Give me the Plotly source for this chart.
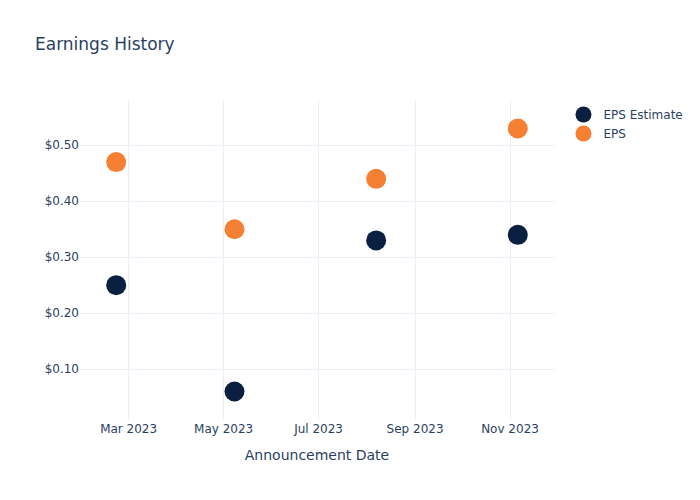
import plotly.graph_objects as go

dates = ["2023-02-21", "2023-05-08", "2023-08-07", "2023-11-06"]
eps_estimate = [0.25, 0.06, 0.33, 0.34]
eps_actual = [0.47, 0.35, 0.44, 0.53]

fig = go.Figure()
fig.add_trace(go.Scatter(x=dates, y=eps_estimate, mode="markers", name="EPS Estimate",
                         marker=dict(size=20, color="#0b1f41")))
fig.add_trace(go.Scatter(x=dates, y=eps_actual, mode="markers", name="EPS",
                         marker=dict(size=20, color="#f58033")))
fig.update_layout(
    template="plotly_white",
    width=700, height=500,
    font=dict(family="DejaVu Sans"),
    title=dict(text="Earnings History"),
    xaxis=dict(title=dict(text="Announcement Date")),
    yaxis=dict(tickformat="$.2f"),
)
fig.write_html("out.html")
